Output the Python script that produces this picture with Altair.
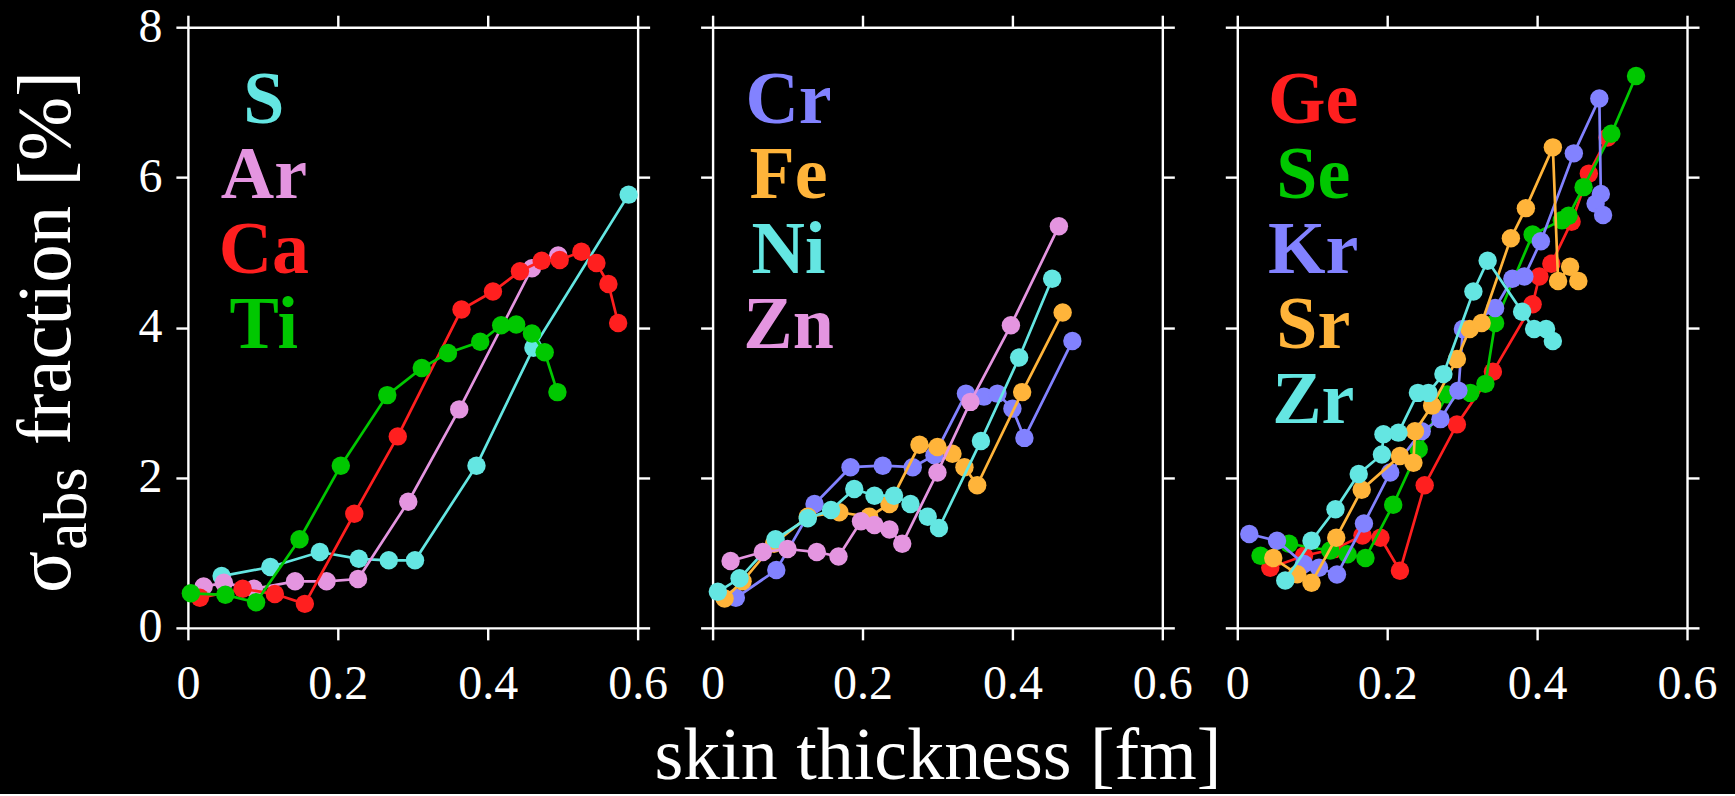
import altair as alt
import pandas as pd

FONT = "Liberation Serif"
CYAN = "#64E6E2"
PINK = "#E495E0"
RED = "#FF1F1F"
GREEN = "#00C800"
BLUE = "#8282FF"
ORANGE = "#FFB43A"

# ---- panel 1 ----
S_x = [0.045, 0.11, 0.176, 0.228, 0.268, 0.303, 0.385, 0.461, 0.588]
S_y = [0.69, 0.81, 1.01, 0.92, 0.90, 0.90, 2.16, 3.73, 5.77]
Ar_x = [0.021, 0.048, 0.088, 0.143, 0.185, 0.227, 0.294, 0.362, 0.459, 0.494]
Ar_y = [0.55, 0.60, 0.52, 0.62, 0.62, 0.65, 1.68, 2.91, 4.79, 4.96]
Ca_x = [0.016, 0.073, 0.116, 0.156, 0.222, 0.28, 0.365, 0.407, 0.443, 0.472, 0.496, 0.525, 0.545, 0.561, 0.574]
Ca_y = [0.40, 0.52, 0.45, 0.32, 1.52, 2.55, 4.24, 4.48, 4.75, 4.89, 4.90, 5.01, 4.86, 4.58, 4.06]
Ti_x = [0.004, 0.05, 0.091, 0.149, 0.204, 0.266, 0.312, 0.347, 0.39, 0.418, 0.438, 0.459, 0.476, 0.493]
Ti_y = [0.46, 0.44, 0.34, 1.18, 2.16, 3.10, 3.46, 3.66, 3.81, 4.03, 4.04, 3.92, 3.67, 3.14]

# ---- panel 2 ----
Cr_x = [0.031, 0.085, 0.136, 0.184, 0.227, 0.267, 0.296, 0.338, 0.362, 0.38, 0.40, 0.416, 0.48]
Cr_y = [0.40, 0.77, 1.65, 2.14, 2.16, 2.14, 2.30, 3.12, 3.08, 3.12, 2.92, 2.53, 3.82]
Fe_x = [0.016, 0.04, 0.082, 0.127, 0.169, 0.209, 0.236, 0.276, 0.30, 0.32, 0.336, 0.353, 0.413, 0.467]
Fe_y = [0.39, 0.62, 1.12, 1.48, 1.54, 1.48, 1.65, 2.44, 2.41, 2.32, 2.14, 1.90, 3.14, 4.20]
Ni_x = [0.007, 0.036, 0.084, 0.127, 0.158, 0.189, 0.216, 0.242, 0.264, 0.287, 0.302, 0.358, 0.409, 0.453]
Ni_y = [0.48, 0.66, 1.18, 1.46, 1.57, 1.85, 1.76, 1.76, 1.65, 1.48, 1.33, 2.49, 3.60, 4.65]
Zn_x = [0.024, 0.067, 0.10, 0.139, 0.168, 0.198, 0.216, 0.236, 0.253, 0.30, 0.344, 0.398, 0.462]
Zn_y = [0.89, 1.01, 1.05, 1.01, 0.95, 1.42, 1.37, 1.31, 1.12, 2.07, 3.01, 4.03, 5.35]

# ---- panel 3 ----
Ge_x = [0.044, 0.089, 0.13, 0.167, 0.191, 0.217, 0.25, 0.293, 0.341, 0.394, 0.403, 0.419, 0.446, 0.469, 0.494]
Ge_y = [0.80, 0.96, 1.05, 1.23, 1.20, 0.76, 1.90, 2.71, 3.41, 4.31, 4.68, 4.85, 5.41, 6.05, 6.53]
Se_x = [0.031, 0.069, 0.124, 0.147, 0.171, 0.208, 0.242, 0.28, 0.311, 0.331, 0.344, 0.394, 0.433, 0.442, 0.462, 0.499, 0.532]
Se_y = [0.96, 1.12, 1.03, 0.98, 0.93, 1.64, 2.38, 3.11, 3.13, 3.25, 4.06, 5.24, 5.43, 5.49, 5.87, 6.58, 7.35]
Kr_x = [0.016, 0.053, 0.089, 0.109, 0.133, 0.169, 0.204, 0.246, 0.271, 0.295, 0.301, 0.344, 0.367, 0.383, 0.405, 0.449, 0.483, 0.485, 0.478, 0.488]
Kr_y = [1.25, 1.16, 0.85, 0.80, 0.71, 1.39, 2.07, 2.62, 2.78, 3.16, 3.98, 4.26, 4.65, 4.68, 5.15, 6.32, 7.05, 5.78, 5.65, 5.50]
Sr_x = [0.048, 0.08, 0.099, 0.132, 0.166, 0.217, 0.235, 0.237, 0.26, 0.293, 0.31, 0.326, 0.365, 0.385, 0.421, 0.428, 0.444, 0.455]
Sr_y = [0.93, 0.715, 0.60, 1.20, 1.84, 2.29, 2.20, 2.62, 2.96, 3.58, 3.98, 4.06, 5.19, 5.59, 6.40, 4.62, 4.81, 4.62]
Zr_x = [0.064, 0.099, 0.131, 0.162, 0.193, 0.195, 0.215, 0.241, 0.255, 0.275, 0.315, 0.334, 0.38, 0.396, 0.412, 0.421]
Zr_y = [0.63, 1.16, 1.58, 2.05, 2.31, 2.58, 2.60, 3.13, 3.13, 3.38, 4.48, 4.89, 4.21, 3.98, 3.98, 3.82]

PANELS = [
    [("S", S_x, S_y, CYAN), ("Ar", Ar_x, Ar_y, PINK), ("Ca", Ca_x, Ca_y, RED), ("Ti", Ti_x, Ti_y, GREEN)],
    [("Cr", Cr_x, Cr_y, BLUE), ("Fe", Fe_x, Fe_y, ORANGE), ("Ni", Ni_x, Ni_y, CYAN), ("Zn", Zn_x, Zn_y, PINK)],
    [("Ge", Ge_x, Ge_y, RED), ("Se", Se_x, Se_y, GREEN), ("Kr", Kr_x, Kr_y, BLUE), ("Sr", Sr_x, Sr_y, ORANGE), ("Zr", Zr_x, Zr_y, CYAN)],
]

X_TICKS = [0, 0.2, 0.4, 0.6]
Y_TICKS = [0, 2, 4, 6, 8]
X_TITLE = "skin thickness [fm]"
Y_TITLE_PARTS = ["σ", "abs", "fraction [%]"]

W, H = 450, 601
xs = alt.Scale(domain=[0, 0.6], nice=False, zero=False)
ys = alt.Scale(domain=[0, 8], nice=False, zero=False)

AX = dict(domainColor="white", domainWidth=2.4, tickColor="white", tickWidth=2.4, tickSize=12,
          labelColor="white", labelFont=FONT, labelFontSize=48, grid=False,
          labelFlush=False, labelOverlap=False, format="~g")


def panel(series, idx):
    layers = []
    first = series[0]
    df0 = pd.DataFrame({"x": first[1], "y": first[2]})
    xb = alt.Axis(orient="bottom", values=X_TICKS, labelPadding=21,
                  title=X_TITLE if idx == 1 else None,
                  titleFont=FONT, titleFontSize=74, titleFontWeight="normal",
                  titleColor="white", titlePadding=12, **AX)
    yl = alt.Axis(orient="left", values=Y_TICKS, labelPadding=14, labels=(idx == 0), title=None, **AX)
    xt = alt.Axis(orient="top", values=X_TICKS, labels=False, title=None, **AX)
    yr = alt.Axis(orient="right", values=Y_TICKS, labels=False, title=None, **AX)
    layers.append(alt.Chart(df0).mark_point(opacity=0).encode(
        x=alt.X("x:Q", scale=xs, axis=xb), y=alt.Y("y:Q", scale=ys, axis=yl)))
    layers.append(alt.Chart(df0).mark_point(opacity=0).encode(
        x=alt.X("x:Q", scale=xs, axis=xt), y=alt.Y("y:Q", scale=ys, axis=yr)))
    for k, (name, sx, sy, col) in enumerate(series):
        df = pd.DataFrame({"x": sx, "y": sy, "i": list(range(len(sx)))})
        enc = dict(x=alt.X("x:Q", scale=xs, axis=None), y=alt.Y("y:Q", scale=ys, axis=None))
        layers.append(alt.Chart(df).mark_line(color=col, strokeWidth=2.7).encode(order="i:Q", **enc))
        layers.append(alt.Chart(df).mark_circle(color=col, size=340, opacity=1).encode(**enc))
    for k, (name, sx, sy, col) in enumerate(series):
        layers.append(alt.Chart(pd.DataFrame({"name": [name]})).mark_text(
            font=FONT, fontSize=74, fontWeight="bold", color=col, align="center", baseline="alphabetic"
        ).encode(text="name:N", x=alt.value(76), y=alt.value(96 + 75 * k)))
    if idx == 0:
        specs = [(Y_TITLE_PARTS[0], 78, -118, 566),
                 (Y_TITLE_PARTS[1], 62, -102, 523),
                 (Y_TITLE_PARTS[2], 77, -118, 418)]
        for txt, fs, px, py in specs:
            layers.append(alt.Chart(pd.DataFrame({"t": [txt]})).mark_text(
                font=FONT, fontSize=fs, color="white", angle=270, align="left", baseline="alphabetic"
            ).encode(text="t:N", x=alt.value(px), y=alt.value(py)))
    return alt.layer(*layers).resolve_axis(x="independent", y="independent").properties(width=W, height=H)


chart = alt.hconcat(*[panel(s, i) for i, s in enumerate(PANELS)], spacing=75, bounds="flush").configure(
    background="black"
).configure_view(stroke=None).properties(padding={"left": 7, "top": 3, "right": 18, "bottom": 0})

chart.save("out.html", embed_options={"renderer": "svg", "actions": False})
